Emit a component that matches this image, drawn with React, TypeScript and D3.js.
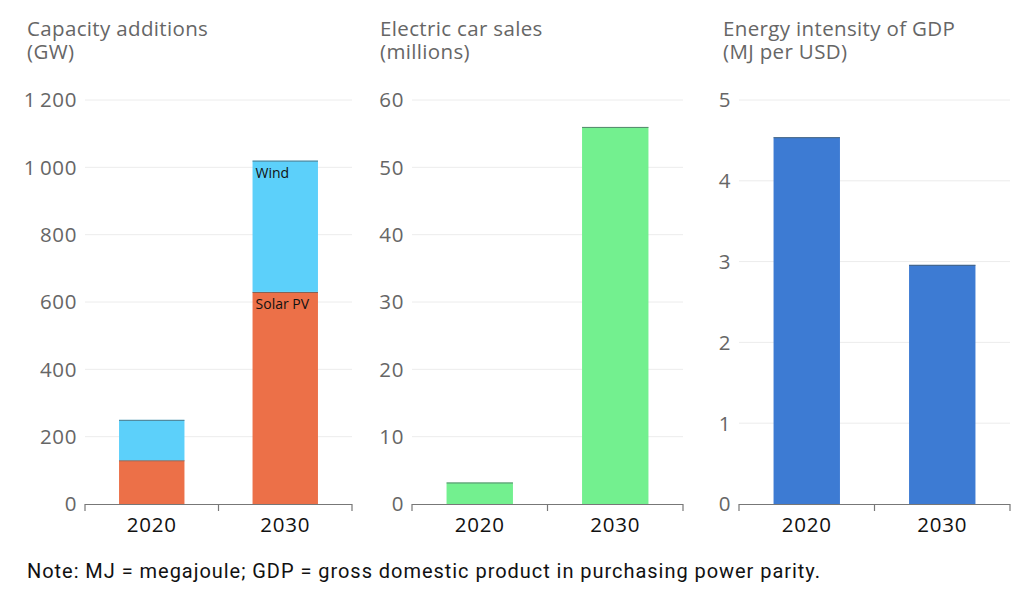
import React from "react";
import * as d3 from "d3";

const years = ["2020", "2030"];
const solarPV = [130, 630];
const wind = [120, 390];
const evSales = [3.2, 56];
const energyIntensity = [4.54, 2.96];

const capTicks = [0, 200, 400, 600, 800, 1000, 1200];
const evTicks = [0, 10, 20, 30, 40, 50, 60];
const eiTicks = [0, 1, 2, 3, 4, 5];

const titles = [
  ["Capacity additions", "(GW)"],
  ["Electric car sales", "(millions)"],
  ["Energy intensity of GDP", "(MJ per USD)"],
];
const note = "Note: MJ = megajoule; GDP = gross domestic product in purchasing power parity.";

const W = 1024;
const H = 603;
const FONT = "'Open Sans', sans-serif";
const Y0 = 504;
const YTOP = 100;

const fmt = (v: number) => (v >= 1000 ? d3.format(",")(v).replace(",", "\u2009") : String(v));

type Seg = { key: string; values: number[]; color: string };

function Panel(props: {
  x0: number;
  x1: number;
  titleX: number;
  title: string[];
  ticks: number[];
  max: number;
  segs: Seg[];
  labels?: { text: string; seg: number }[];
}) {
  const { x0, x1, titleX, title, ticks, max, segs, labels } = props;
  const y = d3.scaleLinear().domain([0, max]).range([Y0, YTOP]);
  const x = d3.scaleBand().domain(years).range([x0, x1]).paddingInner(0).paddingOuter(0);
  const bw = x.bandwidth() * 0.49;
  const stack = d3
    .stack<number>()
    .keys(segs.map((s, i) => String(i)))
    .value((d, k) => segs[+k].values[d])(years.map((_, i) => i));
  return (
    <g>
      <text x={titleX} y={36} fontSize={20.5} letterSpacing={0.35} fill="#666" fontFamily={FONT}>
        <tspan x={titleX} y={36}>{title[0]}</tspan>
        <tspan x={titleX} y={59}>{title[1]}</tspan>
      </text>
      {ticks.map((t) => (
        <g key={t}>
          {t > 0 && <line x1={x0} x2={x1} y1={y(t)} y2={y(t)} stroke="#ececec" strokeWidth={1} />}
          <text
            x={x0 - 8}
            y={y(t)}
            dy="0.36em"
            textAnchor="end"
            fontSize={20.5}
            letterSpacing={0.6}
            fill="#666"
            fontFamily={FONT}
          >
            {fmt(t)}
          </text>
        </g>
      ))}
      {stack.map((layer, li) =>
        layer.map((d, i) => {
          const cx = (x(years[i]) as number) + x.bandwidth() / 2;
          return (
            <g key={li + "-" + i}>
              <rect
                x={cx - bw / 2}
                y={y(d[1])}
                width={bw}
                height={y(d[0]) - y(d[1])}
                fill={segs[li].color}
              />
              <line
                x1={cx - bw / 2}
                x2={cx + bw / 2}
                y1={y(d[1]) + 0.5}
                y2={y(d[1]) + 0.5}
                stroke="#4a5a60"
                strokeOpacity={0.7}
                strokeWidth={1}
              />
            </g>
          );
        })
      )}
      {labels &&
        labels.map((lb) => {
          const i = 1;
          const cx = (x(years[i]) as number) + x.bandwidth() / 2;
          const top = stack[lb.seg][i][1];
          return (
            <text
              key={lb.text}
              x={cx - bw / 2 + 3}
              y={y(top) + 17}
              fontSize={14}
              fill="#111"
              fontFamily="'Open Sans', sans-serif"
            >
              {lb.text}
            </text>
          );
        })}
      <line x1={x0} x2={x1} y1={Y0 + 0.5} y2={Y0 + 0.5} stroke="#777" strokeWidth={1.2} />
      {[x0, (x0 + x1) / 2, x1].map((tx) => (
        <line key={tx} x1={tx} x2={tx} y1={Y0} y2={Y0 + 7} stroke="#777" strokeWidth={1.2} />
      ))}
      {years.map((yr) => (
        <text
          key={yr}
          x={(x(yr) as number) + x.bandwidth() / 2}
          y={532}
          textAnchor="middle"
          fontSize={20.5}
          letterSpacing={0.8}
          fill="#111"
          fontFamily={FONT}
        >
          {yr}
        </text>
      ))}
    </g>
  );
}

export default function App() {
  return (
    <svg width={W} height={H} style={{ position: "absolute", left: 0, top: 0, background: "#fff" }}>
      <Panel
        x0={85}
        x1={352}
        titleX={27}
        title={titles[0]}
        ticks={capTicks}
        max={1200}
        segs={[
          { key: "Solar PV", values: solarPV, color: "#EC7048" },
          { key: "Wind", values: wind, color: "#5CD0FA" },
        ]}
        labels={[
          { text: "Solar PV", seg: 0 },
          { text: "Wind", seg: 1 },
        ]}
      />
      <Panel
        x0={412}
        x1={683}
        titleX={380}
        title={titles[1]}
        ticks={evTicks}
        max={60}
        segs={[{ key: "EV", values: evSales, color: "#73F08F" }]}
      />
      <Panel
        x0={739}
        x1={1010}
        titleX={723}
        title={titles[2]}
        ticks={eiTicks}
        max={5}
        segs={[{ key: "EI", values: energyIntensity, color: "#3D7BD3" }]}
      />
      <text
        x={27}
        y={578}
        fontSize={20}
        fill="#111"
        fontFamily="Roboto, sans-serif"
        textLength={793}
        lengthAdjust="spacing"
      >
        {note}
      </text>
    </svg>
  );
}
